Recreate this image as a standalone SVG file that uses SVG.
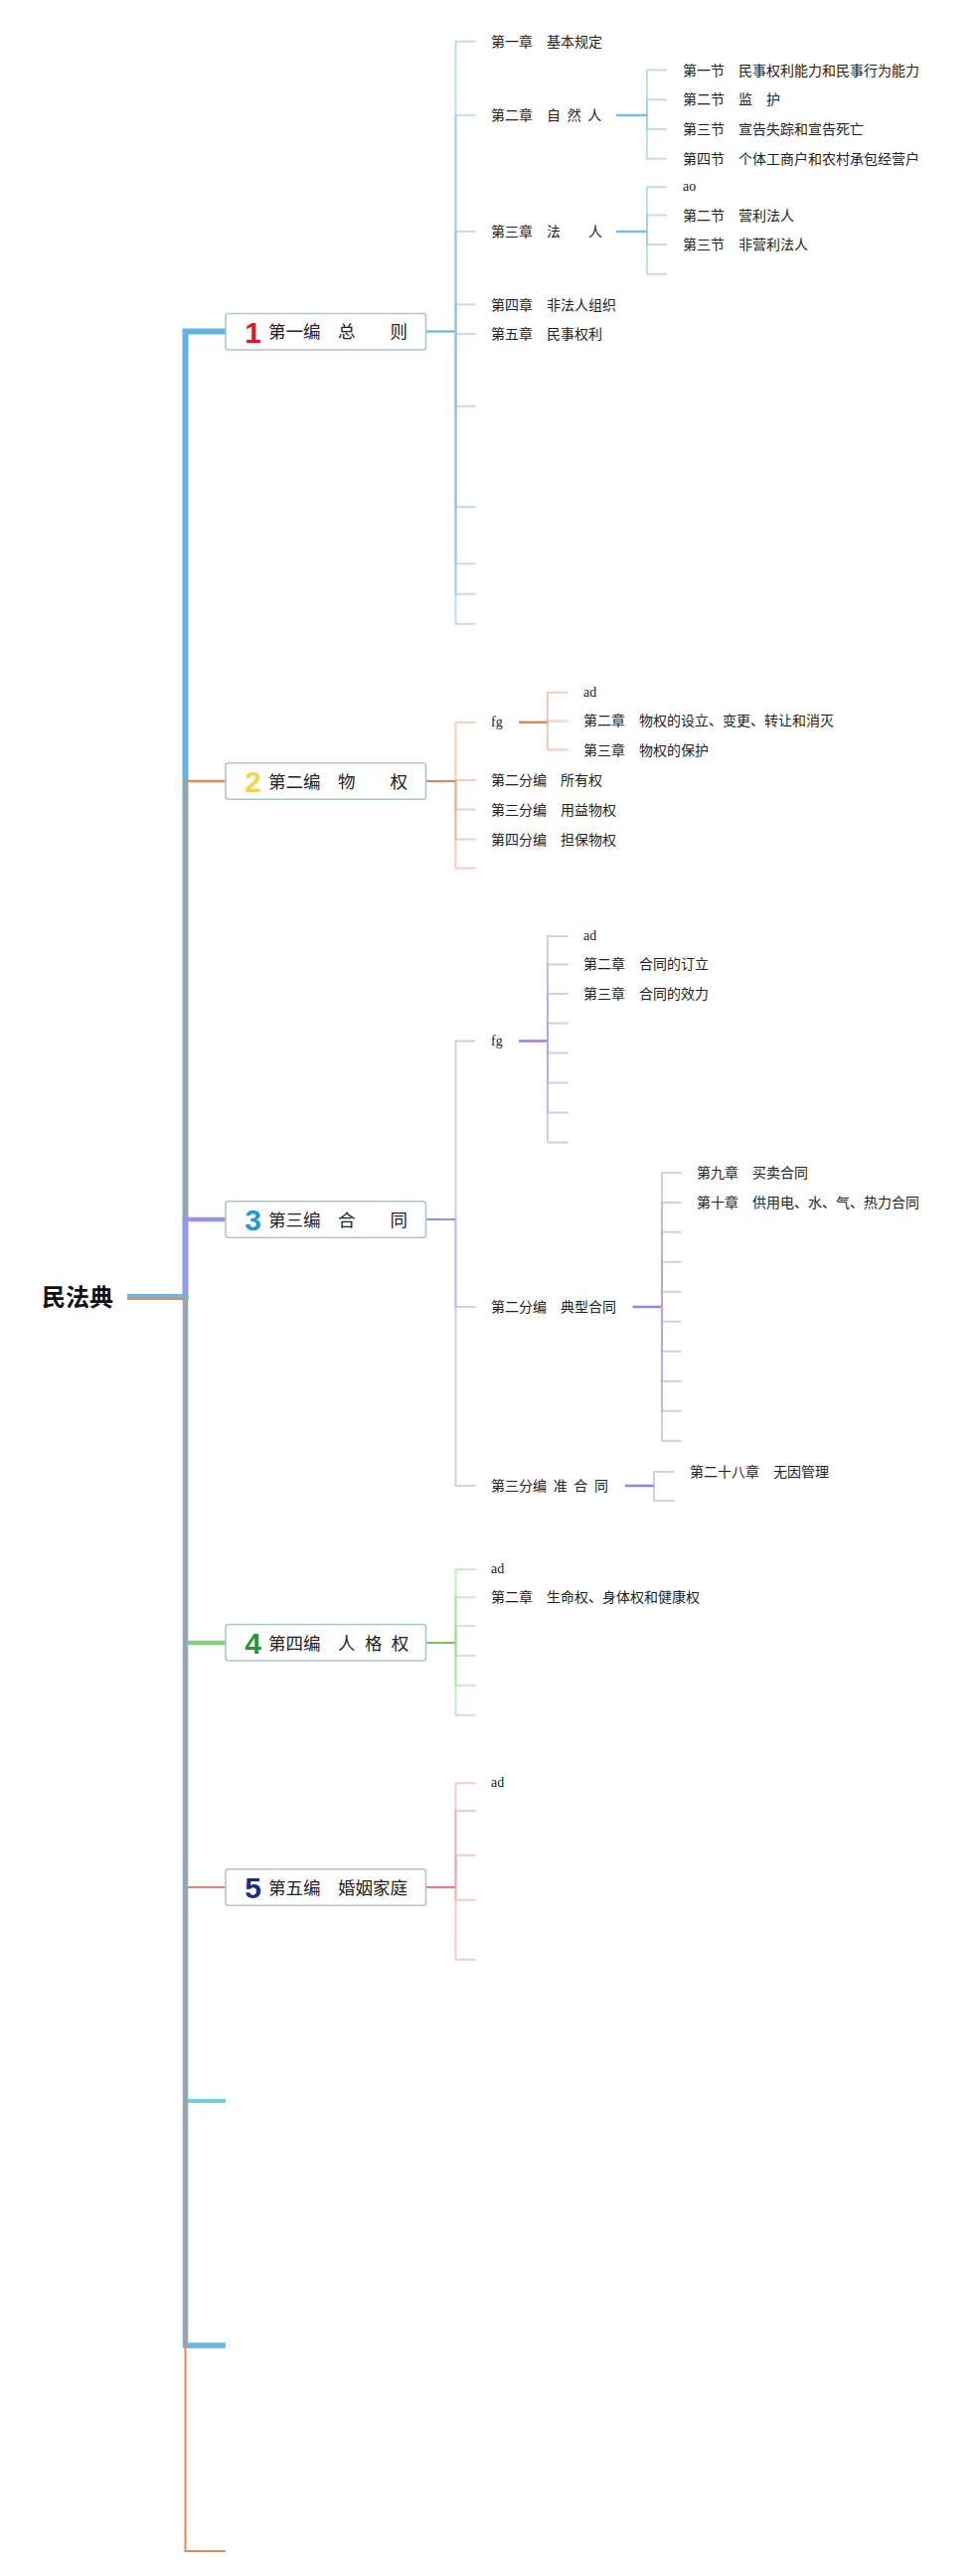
<svg xmlns="http://www.w3.org/2000/svg" width="983" height="2592" viewBox="0 0 983 2592">
<style>
.t{font-family:"Noto Sans CJK SC","Noto Sans",sans-serif;font-size:14px;fill:#222}
.l{font-family:"Liberation Serif",serif;font-size:14px;fill:#222}
.bt{font-family:"Noto Sans CJK SC","Noto Sans",sans-serif;font-size:17.5px;fill:#222}
.num{font-family:"Liberation Sans",Arial,sans-serif;font-size:30px;font-weight:bold;text-anchor:middle}
.box{fill:#fff;stroke:#a9c9c3;stroke-width:1.6}
.c{fill:none;stroke-linejoin:miter;stroke-linecap:butt}
.cb{stroke:#8cc3e6;stroke-width:2;stroke-opacity:0.55;fill:none}
.co{stroke:#eba57f;stroke-width:2;stroke-opacity:0.55;fill:none}
.cp{stroke:#b0a2e6;stroke-width:2;stroke-opacity:0.55;fill:none}
.cg{stroke:#9bd893;stroke-width:2;stroke-opacity:0.55;fill:none}
.cr{stroke:#eb9ea3;stroke-width:2;stroke-opacity:0.55;fill:none}
</style>
<rect width="983" height="2592" fill="#fff"/>
<g id="connectors">
  <!-- trunk -->
  <path class="c" d="M128,1305 H186.5 V1653 H227" stroke="#82d27a" stroke-width="4.5"/>
  <path class="c" d="M128,1305 H186.5 V1899 H227" stroke="#ef7d84" stroke-width="2"/>
  <path class="c" d="M128,1305 H186.5 V2114 H227" stroke="#67d3d8" stroke-width="4"/>
  <path class="c" d="M128,1305 H186.5 V333.5 H227" stroke="#62b3e6" stroke-width="6"/>
  <path class="c" d="M128,1305 H186.5 V786 H227" stroke="#e28a5c" stroke-width="2.5"/>
  <path class="c" d="M128,1305 H186.5 V1227 H227" stroke="#9c94ec" stroke-width="4.5"/>
  <path class="c" d="M128,1305 H186.5 V2360 H227" stroke="#6ab6e4" stroke-width="5.5"/>
  <path class="c" d="M128,1307 H186.5 V2567 H227" stroke="#e28a5c" stroke-width="2"/>
  <!-- node connectors -->
  <path class="c" d="M428.5,333.5 H458.5" stroke="#6eb1da" stroke-width="2.2"/>
  <path class="c" d="M428.5,786 H458.5" stroke="#d98c62" stroke-width="2.2"/>
  <path class="c" d="M428.5,1227 H458.5" stroke="#a58be0" stroke-width="2.2"/>
  <path class="c" d="M428.5,1653 H458.5" stroke="#74c767" stroke-width="2.2"/>
  <path class="c" d="M428.5,1899 H458.5" stroke="#ea7a80" stroke-width="2.2"/>
  <!-- sub connectors -->
  <path class="c" d="M620,116 H651" stroke="#7ab9e0" stroke-width="2.5"/>
  <path class="c" d="M620,233 H651" stroke="#7ab9e0" stroke-width="2.5"/>
  <path class="c" d="M522,726.8 H551" stroke="#d98c62" stroke-width="2.5"/>
  <path class="c" d="M522,1047.5 H551" stroke="#9d7fd6" stroke-width="2.5"/>
  <path class="c" d="M636.6,1315 H666" stroke="#9d7fd6" stroke-width="2.5"/>
  <path class="c" d="M628.8,1495 H658" stroke="#9d7fd6" stroke-width="2.5"/>
  <!-- node 1 children -->
  <path class="cb" d="M458.5,333.5 V41.7 H478.5"/>
  <path class="cb" d="M458.5,333.5 V116 H478.5"/>
  <path class="cb" d="M458.5,333.5 V233 H478.5"/>
  <path class="cb" d="M458.5,333.5 V306.5 H478.5"/>
  <path class="cb" d="M458.5,333.5 V336 H478.5"/>
  <path class="cb" d="M458.5,333.5 V408.7 H478.5"/>
  <path class="cb" d="M458.5,333.5 V510 H478.5"/>
  <path class="cb" d="M458.5,333.5 V567.3 H478.5"/>
  <path class="cb" d="M458.5,333.5 V597.7 H478.5"/>
  <path class="cb" d="M458.5,333.5 V627.7 H478.5"/>
  <path class="cb" d="M651,116 V70.5 H671"/>
  <path class="cb" d="M651,116 V100.3 H671"/>
  <path class="cb" d="M651,116 V130 H671"/>
  <path class="cb" d="M651,116 V159.7 H671"/>
  <path class="cb" d="M651,233 V188.3 H671"/>
  <path class="cb" d="M651,233 V216.5 H671"/>
  <path class="cb" d="M651,233 V246 H671"/>
  <path class="cb" d="M651,233 V275.7 H671"/>
  <!-- node 2 children -->
  <path class="co" d="M458.5,786 V726.8 H478.5"/>
  <path class="co" d="M458.5,786 V785 H478.5"/>
  <path class="co" d="M458.5,786 V814.6 H478.5"/>
  <path class="co" d="M458.5,786 V844.6 H478.5"/>
  <path class="co" d="M458.5,786 V873.6 H478.5"/>
  <path class="co" d="M551,726.8 V696.8 H571.5"/>
  <path class="co" d="M551,726.8 V725.4 H571.5"/>
  <path class="co" d="M551,726.8 V754.6 H571.5"/>
  <!-- node 3 children -->
  <path class="cp" d="M458.5,1227 V1047.5 H478.5"/>
  <path class="cp" d="M458.5,1227 V1315 H478.5"/>
  <path class="cp" d="M458.5,1227 V1495 H478.5"/>
  <path class="cp" d="M551,1047.5 V942 H571.5"/>
  <path class="cp" d="M551,1047.5 V970.4 H571.5"/>
  <path class="cp" d="M551,1047.5 V1000 H571.5"/>
  <path class="cp" d="M551,1047.5 V1029.6 H571.5"/>
  <path class="cp" d="M551,1047.5 V1059.6 H571.5"/>
  <path class="cp" d="M551,1047.5 V1089.6 H571.5"/>
  <path class="cp" d="M551,1047.5 V1119.6 H571.5"/>
  <path class="cp" d="M551,1047.5 V1149.6 H571.5"/>
  <path class="cp" d="M666,1315 V1180 H685.5"/>
  <path class="cp" d="M666,1315 V1210 H685.5"/>
  <path class="cp" d="M666,1315 V1239.7 H685.5"/>
  <path class="cp" d="M666,1315 V1269.7 H685.5"/>
  <path class="cp" d="M666,1315 V1299.7 H685.5"/>
  <path class="cp" d="M666,1315 V1329.7 H685.5"/>
  <path class="cp" d="M666,1315 V1359.7 H685.5"/>
  <path class="cp" d="M666,1315 V1389.7 H685.5"/>
  <path class="cp" d="M666,1315 V1419.7 H685.5"/>
  <path class="cp" d="M666,1315 V1449.7 H685.5"/>
  <path class="cp" d="M658,1495 V1481 H678.5"/>
  <path class="cp" d="M658,1495 V1510 H678.5"/>
  <!-- node 4 children -->
  <path class="cg" d="M458.5,1653 V1579.3 H478.5"/>
  <path class="cg" d="M458.5,1653 V1607.3 H478.5"/>
  <path class="cg" d="M458.5,1653 V1636 H478.5"/>
  <path class="cg" d="M458.5,1653 V1666 H478.5"/>
  <path class="cg" d="M458.5,1653 V1695.7 H478.5"/>
  <path class="cg" d="M458.5,1653 V1725.7 H478.5"/>
  <!-- node 5 children -->
  <path class="cr" d="M458.5,1899 V1794.3 H478.5"/>
  <path class="cr" d="M458.5,1899 V1822 H478.5"/>
  <path class="cr" d="M458.5,1899 V1866.7 H478.5"/>
  <path class="cr" d="M458.5,1899 V1911.7 H478.5"/>
  <path class="cr" d="M458.5,1899 V1971.7 H478.5"/>
</g>
<g id="root">
  <text x="42" y="1314" font-family="Noto Sans CJK SC, Noto Sans, sans-serif" font-size="24" font-weight="bold" fill="#111">民法典</text>
</g>
<g id="node1">
  <rect class="box" x="227" y="315.5" width="201.5" height="36.5" rx="3"/>
  <text class="num" x="254.5" y="344.5" fill="#e3182d">1</text>
  <text class="bt" x="270" y="340">第一编　总　　则</text>
</g>
<g id="node1-children">
  <text class="t" x="494" y="46.7">第一章　基本规定</text>
  <text class="t" x="494" y="121" style="word-spacing:3.5px">第二章　自 然 人</text>
  <text class="t" x="494" y="238">第三章　法　　人</text>
  <text class="t" x="494" y="311.5">第四章　非法人组织</text>
  <text class="t" x="494" y="341">第五章　民事权利</text>
  <text class="t" x="687" y="75.5">第一节　民事权利能力和民事行为能力</text>
  <text class="t" x="687" y="105.3">第二节　监　护</text>
  <text class="t" x="687" y="135">第三节　宣告失踪和宣告死亡</text>
  <text class="t" x="687" y="164.7">第四节　个体工商户和农村承包经营户</text>
  <text class="l" x="687" y="192.3">ao</text>
  <text class="t" x="687" y="221.5">第二节　营利法人</text>
  <text class="t" x="687" y="251">第三节　非营利法人</text>
</g>
<g id="node2">
  <rect class="box" x="227" y="767.8" width="201.5" height="36.5" rx="3"/>
  <text class="num" x="254.5" y="797" fill="#f5d547">2</text>
  <text class="bt" x="270" y="792.5">第二编　物　　权</text>
</g>
<g id="node2-children">
  <text class="l" x="494" y="730.8">fg</text>
  <text class="t" x="494" y="790">第二分编　所有权</text>
  <text class="t" x="494" y="819.6">第三分编　用益物权</text>
  <text class="t" x="494" y="849.6">第四分编　担保物权</text>
  <text class="l" x="587" y="700.8">ad</text>
  <text class="t" x="587" y="730.4">第二章　物权的设立、变更、转让和消灭</text>
  <text class="t" x="587" y="759.6">第三章　物权的保护</text>
</g>
<g id="node3">
  <rect class="box" x="227" y="1208.8" width="201.5" height="36.5" rx="3"/>
  <text class="num" x="254.5" y="1238" fill="#1f97d8">3</text>
  <text class="bt" x="270" y="1233.5">第三编　合　　同</text>
</g>
<g id="node3-children">
  <text class="l" x="494" y="1051.5">fg</text>
  <text class="t" x="494" y="1320">第二分编　典型合同</text>
  <text class="t" x="494" y="1500" style="word-spacing:3.5px">第三分编 准 合 同</text>
  <text class="l" x="587" y="946">ad</text>
  <text class="t" x="587" y="975.4">第二章　合同的订立</text>
  <text class="t" x="587" y="1005">第三章　合同的效力</text>
  <text class="t" x="701" y="1185">第九章　买卖合同</text>
  <text class="t" x="701" y="1215">第十章　供用电、水、气、热力合同</text>
  <text class="t" x="694" y="1486">第二十八章　无因管理</text>
</g>
<g id="node4">
  <rect class="box" x="227" y="1634.5" width="201.5" height="36.5" rx="3"/>
  <text class="num" x="254.5" y="1664" fill="#1c9a2e">4</text>
  <text class="bt" x="270" y="1659.5" style="word-spacing:5.5px">第四编　人 格 权</text>
</g>
<g id="node4-children">
  <text class="l" x="494" y="1583.3">ad</text>
  <text class="t" x="494" y="1612.3">第二章　生命权、身体权和健康权</text>
</g>
<g id="node5">
  <rect class="box" x="227" y="1880.8" width="201.5" height="36.5" rx="3"/>
  <text class="num" x="254.5" y="1910" fill="#1b2b82">5</text>
  <text class="bt" x="270" y="1905.5">第五编　婚姻家庭</text>
</g>
<g id="node5-children">
  <text class="l" x="494" y="1798.3">ad</text>
</g>
</svg>
